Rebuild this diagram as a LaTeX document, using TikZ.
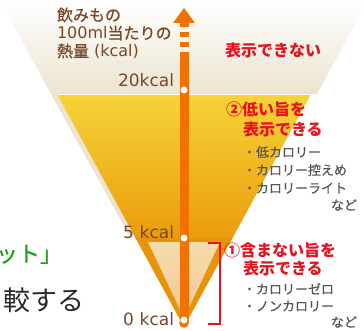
\documentclass[tikz,border=0pt]{standalone}
\usepackage{fontspec}
\setmainfont{Noto Sans CJK JP}
\newfontfamily\medfont{Noto Sans CJK JP}[FakeBold=0.6]
\newfontfamily\latf{DejaVu Sans}
\definecolor{beige}{RGB}{236,228,208}
\definecolor{yeltop}{RGB}{246,212,56}
\definecolor{yelbot}{RGB}{234,156,12}
\definecolor{orng}{RGB}{232,148,10}
\definecolor{axisor}{RGB}{241,114,0}
\definecolor{lighttop}{RGB}{246,220,170}
\definecolor{lightbot}{RGB}{240,200,150}
\definecolor{brn}{RGB}{120,70,40}
\definecolor{redt}{RGB}{230,18,30}
\definecolor{gryt}{RGB}{85,85,85}
\definecolor{grnt}{RGB}{30,158,30}
\definecolor{blk}{RGB}{40,40,40}
\begin{document}
\begin{tikzpicture}[x=1pt,y=-1pt,
  txt/.style={inner sep=0pt, outer sep=0pt},
  brtxt/.style={txt, text=brn, font=\medfont\fontsize{16}{18}\selectfont},
  kcal/.style={txt, text=brn, font=\latf\fontsize{17}{18}\selectfont, anchor=base east},
  redtxt/.style={txt, text=redt, font=\bfseries\fontsize{16}{18}\selectfont, anchor=base west},
  grtxt/.style={txt, text=gryt, font=\medfont\fontsize{13}{16}\selectfont, anchor=base west},
  dot/.style={circle, fill=white, inner sep=0pt, minimum size=7pt}]
\useasboundingbox (0,0) rectangle (364,331);
\begin{scope}
\clip (0,0) rectangle (364,331);
% beige funnel background
\shade[top color=white, bottom color=beige] (-0.2,0) -- (368.2,0) -- (317,94) -- (51,94) -- cycle;
\fill[beige] (51,94) -- (57,94) -- (133.9,235) -- (128.9,235) -- cycle;
% yellow band
\shade[top color=yeltop, bottom color=yelbot] (57,94) -- (311,94) -- (232.5,238) -- (135.5,238) -- cycle;
\draw[white, line width=0.8pt] (57.5,94) -- (310.5,94);
% orange triangle
\fill[orng] (135.5,238) -- (232.5,238) -- (184,327) -- cycle;
\shade[top color=lighttop, bottom color=lightbot] (148,242) -- (220,242) -- (184,318) -- cycle;
% axis
\coordinate (tip) at (184,8);
\coordinate (base) at (184,323);
\fill[axisor] (173,23) -- (tip) -- (195,23) -- cycle;
\fill[axisor] (179.5,23) rectangle (188.5,27);
\fill[axisor] (179.5,32) rectangle (188.5,37);
\fill[axisor] (179.5,42) rectangle (188.5,47);
\fill[axisor] (179.5,52) rectangle (188.5,323);
\fill[axisor] (base) circle (4.8);
\node[dot] (d20) at (184,90) {};
\node[dot] (d5) at (184,238) {};
\node[dot] (d0) at (184,320) {};
% bracket
\coordinate (bt) at (208,243);
\coordinate (bb) at (208,324);
\draw[redt, line width=1.1pt] (bt) -| (220,324) -- (bb);
% left cut texts
\node[txt, text=grnt, font=\medfont\fontsize{22}{24}\selectfont, anchor=base east] (lg) at (62,262) {ット」};
\node[txt, text=blk, font=\fontsize{27}{28}\selectfont, anchor=base east] (lb) at (85,310) {較する};
\end{scope}
% axis label
\node[brtxt, anchor=base west] (l1) at (57,21) {飲みもの};
\node[brtxt, anchor=base west] (l2) at (57,39) {{\latf 100ml}当たりの};
\node[brtxt, anchor=base west] (l3) at (57,57) {熱量{\latf\ (kcal)}};
\node[kcal] (k20) at (174,87) {20kcal};
\node[kcal] (k5) at (174,239) {5\,\,kcal};
\node[kcal] (k0) at (174,325) {0\,\,kcal};
% right texts
\node[txt, text=redt, font=\bfseries\fontsize{16}{18}\selectfont, anchor=base west] (nd) at (225,57) {表示できない};
\node[redtxt] (r2a) at (226,116) {②低い旨を};
\node[redtxt] (r2b) at (243,136) {表示できる};
\node[grtxt] (g1) at (243,157) {・低カロリー};
\node[grtxt] (g2) at (243,175) {・カロリー控えめ};
\node[grtxt] (g3) at (243,193) {・カロリーライト};
\node[grtxt, anchor=base east] (g4) at (357,210) {など};
\node[redtxt] (r1a) at (224,256) {①含まない旨を};
\node[redtxt] (r1b) at (243,274) {表示できる};
\node[grtxt] (h1) at (243,294) {・カロリーゼロ};
\node[grtxt] (h2) at (243,311) {・ノンカロリー};
\node[grtxt, anchor=base east] (h3) at (357,327) {など};
\end{tikzpicture}
\end{document}
